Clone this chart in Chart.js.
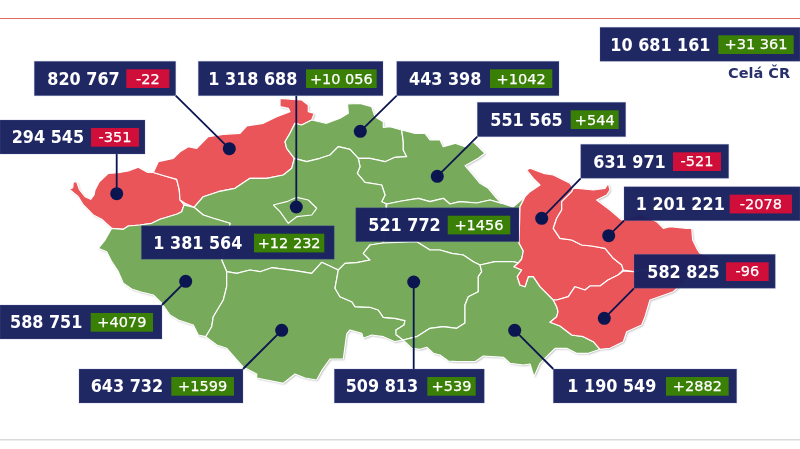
<!DOCTYPE html>
<html>
<head>
<meta charset="utf-8">
<style>
  html, body { margin: 0; padding: 0; background: #fff; overflow: hidden; }
  canvas { display: block; }
</style>
<script src="https://cdn.jsdelivr.net/npm/chart.js@4"></script>
</head>
<body>
<canvas id="chart" width="800" height="449"></canvas>
<script>
// values per region
const populations = ['820 767', '1 318 688', '443 398', '551 565', '10 681 161', '631 971', '1 201 221',
  '294 545', '521 772', '1 381 564', '588 751', '643 732', '509 813', '1 190 549', '582 825'];
const changes = ['-22', '+10 056', '+1042', '+544', '+31 361', '-521', '-2078',
  '-351', '+1456', '+12 232', '+4079', '+1599', '+539', '+2882', '-96'];
const totalLabel = 'Celá ČR';

// label boxes: left, top, right, bottom, change box left, change box right, text left
const boxes = [
  [34.3, 61.3, 175.7, 95.7, 126.3, 169.3, 47.3],
  [198.3, 61.3, 383, 95.7, 306, 376.7, 208.3],
  [396.7, 61.3, 559, 95.7, 490, 552.3, 409],
  [477.3, 102.3, 625.7, 136.7, 570.7, 618.7, 490.3],
  [600, 27.3, 800, 61.3, 718.3, 793.7, 610.3],
  [580.7, 144.3, 728.7, 178.3, 673, 721, 593.3],
  [624, 186.7, 800, 220.7, 729.7, 792, 635.7],
  [0, 120, 145, 154, 91, 139, 11.7],
  [355.7, 207.7, 519, 241.7, 447.7, 510.3, 368.3],
  [141.3, 225.7, 334.3, 259.3, 254, 324.3, 153.3],
  [0, 305, 162, 339, 90.7, 153, 10],
  [79, 369, 243, 403, 171.3, 234, 90.7],
  [334.3, 369, 484.3, 403, 427.3, 475.7, 345.7],
  [553.3, 369, 736.7, 403, 666, 728.7, 567.3],
  [634, 254.3, 775.3, 288.3, 726, 768.7, 647.3]
];

// dot on the map and the place where its leader reaches the box
const dots = [[229.3, 148.7], [296.3, 207], [360.3, 131.3], [437.3, 176.3], [541.7, 218.3], [608.7, 235.7],
  [116.7, 193.7], [185.7, 281.3], [281.7, 330.3], [413.7, 282], [514.7, 330.3], [604.3, 318.3]];
const leaderEnds = [[175.7, 95.7], [296.3, 95.7], [396.7, 95.7], [477.3, 136.7], [580.7, 178.3], [624, 220.7],
  [116.7, 154], [162, 305], [243, 369], [413.7, 369], [553.3, 369], [634, 288.3]];

// region outlines, in picture units
const karlovarsky = [[69.3,189.3],[72.7,187.7],[73.3,182],[76.7,181.7],[79.3,189.3],[85,196.7],[90.7,199.3],[94,195],[95,190],[99.3,181.7],[108.3,173.3],[118.3,172.7],[128.3,171],[138.3,167.3],[147.3,172.3],[153.3,172.5],[165,176],[176.7,179.3],[179.3,190],[180,200],[184,205],[181.7,211.7],[177.3,214],[168.3,216.7],[160,219.3],[151.7,223.3],[140,225],[128.3,226],[123.3,229.3],[111.7,228.3],[106,223.3],[101.7,219.3],[93.3,215],[83.3,205],[78.3,196.7]];
const ustecky = [[153.3,172.5],[158.3,161.7],[173.3,158.3],[180,151.7],[188.3,146.7],[196.7,148.3],[208.3,136.7],[223.3,134.3],[240,133.3],[246.7,126],[263.3,123.3],[276.7,116.7],[290,111.7],[288.3,108.3],[280,106.7],[280,98.3],[293.3,99.3],[301.7,100],[308.3,105],[308.3,111.7],[314.3,113.3],[311.7,120],[301.7,125],[295,123.3],[290,133.3],[285,141.7],[286.7,148.3],[294.3,158.3],[291.7,168.3],[283.3,175],[266.7,178.3],[250,178.3],[235,188.3],[218.3,191.7],[203.3,196.7],[194,207.3],[185,203.3],[180,200],[179.3,190],[176.7,179.3],[165,176]];
const liberecky = [[295,123.3],[301.7,125],[311.7,120],[326.7,123.3],[340,118.3],[348.3,113.3],[347.5,104],[360,103.3],[371.7,106.7],[375,116.7],[383.3,121.7],[383.3,127.3],[390,126.7],[401.7,130],[403.3,141.7],[403.3,150],[406.7,156.7],[395,157.3],[385,161.7],[370,158.3],[358.3,158.3],[350,149.3],[338.3,146.7],[330,155],[320,158.3],[306.7,161.7],[294.3,158.3],[286.7,148.3],[285,141.7],[290,133.3]];
const kralovehradecky = [[401.7,130],[415,133.3],[425,133.3],[430,140],[440,140],[443.3,146.7],[455,143.3],[465,146.7],[473.3,141.7],[485,153.3],[478.3,158.3],[465,165.7],[471.7,173.3],[480,183.3],[488.3,188.3],[496.7,198.3],[501.7,203.3],[490,200],[476.7,203],[460,201.7],[450,204],[443.3,198.3],[430,201.7],[418.3,198.3],[401.7,201],[386.7,204],[381.7,201.7],[385,195],[381.7,185],[365,182.3],[357.3,173.3],[360,166.7],[358.3,158.3],[370,158.3],[385,161.7],[395,157.3],[406.7,156.7],[403.3,150],[403.3,141.7]];
const pardubicky = [[386.7,204],[401.7,201],[418.3,198.3],[430,201.7],[443.3,198.3],[450,204],[460,201.7],[476.7,203],[490,200],[501.7,203.3],[513,207],[525,196.7],[520,206.7],[519,243],[523.3,251],[521.7,259],[518.3,263],[513.3,261.7],[495,261.7],[480,265],[473.3,261.7],[463.3,255],[451.7,253.3],[440,250],[430,250],[416.7,241.7],[383,243]];
const stredocesky = [[194,207.3],[203.3,196.7],[218.3,191.7],[235,188.3],[250,178.3],[266.7,178.3],[283.3,175],[291.7,168.3],[294.3,158.3],[306.7,161.7],[320,158.3],[330,155],[338.3,146.7],[350,149.3],[358.3,158.3],[360,166.7],[357.3,173.3],[365,182.3],[381.7,185],[385,195],[381.7,201.7],[386.7,204],[386,225],[383,243],[370,245],[363.3,253.3],[370,260],[356.7,262.7],[345,263.3],[338.3,270],[321.7,262.3],[311.7,273.3],[295,270.7],[271.7,267.7],[260,271.7],[250,270],[236.7,273.3],[226.7,271.7],[221.7,260],[230,223.3],[213.3,218.3],[203.3,215]];
const praha = [[273.3,205],[286.7,201.7],[296.7,197.3],[308.3,200],[316.7,208.3],[311.7,215],[296.7,216.7],[288.3,223.3],[280,211.7]];
const plzensky = [[111.7,228.3],[123.3,229.3],[128.3,226],[140,225],[151.7,223.3],[160,219.3],[168.3,216.7],[177.3,214],[181.7,211.7],[184,205],[194,207.3],[203.3,215],[213.3,218.3],[230,223.3],[221.7,260],[226.7,271.7],[226.7,286.7],[223.3,300],[213.3,316.7],[211.7,326.7],[205.7,336.7],[198.3,335],[193.3,325],[178.3,320],[170,315],[161.7,303.3],[153.3,295],[143.3,292.7],[131.7,289],[123.3,283.3],[118.3,271.7],[111.7,261.7],[106.7,251.7],[98.3,248.3],[105,240]];
const jihocesky = [[226.7,271.7],[236.7,273.3],[250,270],[260,271.7],[271.7,267.7],[295,270.7],[311.7,273.3],[321.7,262.3],[338.3,270],[335,288.3],[340,296.7],[351.7,301.7],[355,306.7],[370,307.3],[378.3,310],[383.3,317.3],[395,318.3],[405,320.7],[404,325],[396,330],[396.7,335],[403,340],[395,341.7],[383.3,336.7],[371.7,335],[363.3,338.3],[361.7,333.3],[350,330],[346.7,334],[343.3,359],[330,359],[321.7,370.7],[316.7,380],[305,378],[295,374],[283.3,383.3],[256.7,378],[256.7,374],[243,367],[226.7,348.3],[216.7,345],[205.7,336.7],[211.7,326.7],[213.3,316.7],[223.3,300],[226.7,286.7]];
const vysocina = [[338.3,270],[345,263.3],[356.7,262.7],[370,260],[363.3,253.3],[370,245],[383,243],[416.7,241.7],[430,250],[440,250],[451.7,253.3],[463.3,255],[473.3,261.7],[480,265],[481.7,271.7],[478.3,276.7],[478.3,291.7],[468.3,296.7],[465,305],[465,323],[456.7,328.3],[443.3,326.7],[430,328.3],[416.7,336.7],[403,340],[396.7,335],[396,330],[404,325],[405,320.7],[395,318.3],[383.3,317.3],[378.3,310],[370,307.3],[355,306.7],[351.7,301.7],[340,296.7],[335,288.3]];
const jihomoravsky = [[480,265],[495,261.7],[513.3,261.7],[518.3,263],[514,266.7],[521.7,270],[517.3,276.7],[520,285],[525,286.7],[528.3,276.7],[533.3,276.7],[540,286.7],[553.3,300],[556.7,306.7],[558,311.7],[556.7,316.7],[550,322.3],[560,326],[571.7,335],[583.3,336.7],[593.3,341.7],[600,349.3],[588.3,353.3],[576.7,353.3],[566.7,348.3],[555,348.3],[548.3,355],[540,363.3],[534,376.7],[530,364],[523.3,365],[510,363.3],[503.3,357.3],[483.3,356],[475,361.7],[456.7,361.7],[448.3,361],[440,355],[433.3,353.3],[426.7,347.3],[420,349.3],[411.7,348.3],[403,340],[416.7,336.7],[430,328.3],[443.3,326.7],[456.7,328.3],[465,323],[465,305],[468.3,296.7],[478.3,291.7],[478.3,276.7],[481.7,271.7]];
const olomoucky = [[526.7,170],[530,168.3],[543.3,173.3],[553.3,175],[570,183.3],[573.3,188.3],[571.7,191.7],[561.7,201.7],[561.7,210],[556.7,218.3],[553.3,228.3],[560,238.3],[571.7,240],[581.7,245],[591.7,246],[605,248.3],[613.3,258.3],[621.7,265],[623.3,270],[618,275],[608,280],[600,286],[590,286],[585,290],[575,286.7],[568.3,296.7],[556.7,300],[553.3,300],[540,286.7],[533.3,276.7],[528.3,276.7],[525,286.7],[520,285],[517.3,276.7],[521.7,270],[514,266.7],[518.3,263],[521.7,259],[523.3,251],[519,243],[520,206.7],[525,196.7],[530,191.7],[540,185],[533.3,178.3]];
const moravskoslezsky = [[571.7,191.7],[573.3,188.3],[578.3,188.3],[593.3,190],[605,188.3],[608.3,183.3],[610,190],[606.7,195],[596.7,200],[610,210],[621.7,220],[640,214],[656.7,221.7],[663.3,228.3],[670,226.7],[686.7,228.3],[691.7,228.3],[692.7,240],[696.7,248.3],[700,253.3],[712,258],[695,272],[660,268],[633.3,271.7],[623.3,270],[621.7,265],[613.3,258.3],[605,248.3],[591.7,246],[581.7,245],[571.7,240],[560,238.3],[553.3,228.3],[556.7,218.3],[561.7,210],[561.7,201.7]];
const zlinsky = [[553.3,300],[556.7,300],[568.3,296.7],[575,286.7],[585,290],[590,286],[600,286],[608,280],[618,275],[623.3,271],[633.3,271.7],[660,268],[695,272],[673.3,291.7],[650,300],[645,316.7],[641.7,325],[626.7,331.7],[623.3,341.7],[610,348.3],[600,349.3],[593.3,341.7],[583.3,336.7],[571.7,335],[560,326],[550,322.3],[556.7,316.7],[558,311.7],[556.7,306.7]];

const GREEN = '#77aa5b';
const RED = '#e95559';
// Prague comes first so it is painted over the region around it
const regions = [
  [praha, GREEN], [zlinsky, RED], [moravskoslezsky, RED], [olomoucky, RED], [jihomoravsky, GREEN],
  [vysocina, GREEN], [jihocesky, GREEN], [plzensky, GREEN], [stredocesky, GREEN], [pardubicky, GREEN],
  [kralovehradecky, GREEN], [liberecky, GREEN], [ustecky, RED], [karlovarsky, RED]
];

const toPoints = (list) => list.map(([x, y]) => ({ x, y }));
const closed = (list) => toPoints(list.concat([list[0]]));

const datasets = [];
datasets.push({
  data: toPoints(dots), showLine: false, pointRadius: 6.5, pointBackgroundColor: '#0b1550', pointBorderWidth: 0
});
dots.forEach((dot, i) => {
  datasets.push({
    data: toPoints([dot, leaderEnds[i]]), showLine: true, pointRadius: 0, borderColor: '#0b1550', borderWidth: 1.8
  });
});
regions.forEach(([outline, color]) => {
  datasets.push({
    data: closed(outline), showLine: true, pointRadius: 0, fill: 'shape', backgroundColor: color,
    borderColor: '#ffffff', borderWidth: 1.2, borderJoinStyle: 'round', tension: 0
  });
});

// soft grey edge under the whole map
const mapShadow = {
  id: 'mapShadow',
  beforeDatasetsDraw(chart) {
    const { ctx, scales } = chart;
    ctx.save();
    ctx.shadowColor = 'rgba(0,0,0,0.3)';
    ctx.shadowBlur = 2;
    ctx.shadowOffsetX = 1;
    ctx.shadowOffsetY = 1;
    ctx.fillStyle = '#ffffff';
    regions.forEach(([outline]) => {
      ctx.beginPath();
      outline.forEach(([x, y]) => ctx.lineTo(scales.x.getPixelForValue(x), scales.y.getPixelForValue(y)));
      ctx.closePath();
      ctx.fill();
    });
    ctx.restore();
  }
};

// rules and label boxes on top of the map
const labels = {
  id: 'labels',
  afterDatasetsDraw(chart) {
    const { ctx, scales } = chart;
    const px = (x) => scales.x.getPixelForValue(x);
    const py = (y) => scales.y.getPixelForValue(y);
    ctx.save();

    ctx.fillStyle = '#e66a6a';
    ctx.fillRect(0, py(18), 800, 1);
    ctx.fillStyle = '#dadada';
    ctx.fillRect(0, py(439), 800, 1.5);

    ctx.textBaseline = 'alphabetic';
    boxes.forEach(([x0, y0, x1, y1, cx0, cx1, tx], i) => {
      ctx.fillStyle = 'rgba(25,33,95,0.97)';
      ctx.fillRect(px(x0), py(y0), x1 - x0, y1 - y0);
      ctx.strokeStyle = 'rgba(110,120,185,0.25)';
      ctx.lineWidth = 1;
      ctx.strokeRect(px(x0), py(y0), x1 - x0, y1 - y0);

      const change = changes[i];
      const midY = py((y0 + y1) / 2);
      ctx.fillStyle = change[0] === '-' ? '#cf0f3a' : '#3a7f06';
      ctx.fillRect(px(cx0), py(y0 + 8), cx1 - cx0, 18.7);

      // the numbers in the picture are a little taller than the font
      ctx.save();
      ctx.translate(px(tx), midY + 6.3);
      ctx.scale(1, 1.1);
      ctx.fillStyle = '#ffffff';
      ctx.textAlign = 'left';
      ctx.font = 'bold 16px "DejaVu Sans"';
      ctx.fillText(populations[i], 0, 0);
      ctx.restore();

      ctx.fillStyle = '#ffffff';
      ctx.textAlign = 'center';
      ctx.font = '14.5px "DejaVu Sans"';
      ctx.strokeStyle = '#ffffff';
      ctx.lineWidth = 0.25;
      ctx.fillText(change, px((cx0 + cx1) / 2), midY + 5.1);
      ctx.strokeText(change, px((cx0 + cx1) / 2), midY + 5.1);
    });

    ctx.fillStyle = '#27306b';
    ctx.textAlign = 'left';
    ctx.font = 'bold 14.5px "DejaVu Sans"';
    ctx.fillText(totalLabel, px(728), py(77.5));
    ctx.restore();
  }
};

new Chart(document.getElementById('chart'), {
  type: 'scatter',
  data: { datasets },
  options: {
    responsive: false,
    animation: false,
    layout: { padding: 0, autoPadding: false },
    clip: false,
    scales: {
      x: { display: false, type: 'linear', min: 0, max: 800 },
      y: { display: false, type: 'linear', min: 0, max: 449, reverse: true }
    },
    plugins: { legend: { display: false }, tooltip: { enabled: false } }
  },
  plugins: [mapShadow, labels]
});
</script>
</body>
</html>
